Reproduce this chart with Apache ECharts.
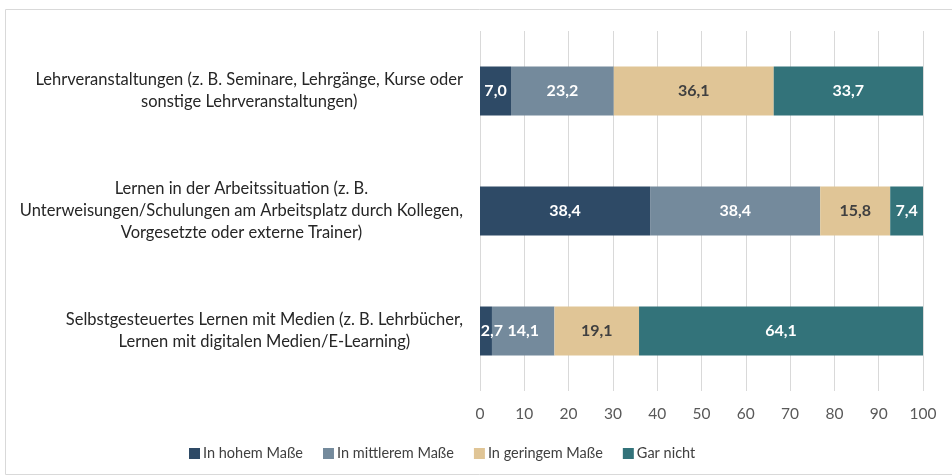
<!DOCTYPE html>
<html>
<head>
<meta charset="utf-8">
<script src="https://cdn.jsdelivr.net/npm/echarts@6/dist/echarts.min.js"></script>
<style>
html,body{margin:0;padding:0;background:#fff;}
#chart{width:952px;height:476px;}
</style>
</head>
<body>
<div id="chart"></div>
<script>
var categories = [
  'Lehrveranstaltungen (z. B. Seminare, Lehrgänge, Kurse oder\nsonstige Lehrveranstaltungen)',
  'Lernen in der Arbeitssituation (z. B.\nUnterweisungen/Schulungen am Arbeitsplatz durch Kollegen,\nVorgesetzte oder externe Trainer)',
  'Selbstgesteuertes Lernen mit Medien (z. B. Lehrbücher,\nLernen mit digitalen Medien/E-Learning)'
];
var seriesNames = ['In hohem Maße', 'In mittlerem Maße', 'In geringem Maße', 'Gar nicht'];
var hohem = [7.0, 38.4, 2.7];
var mittlerem = [23.2, 38.4, 14.1];
var geringem = [36.1, 15.8, 19.1];
var garNicht = [33.7, 7.4, 64.1];
var xTicks = [0, 10, 20, 30, 40, 50, 60, 70, 80, 90, 100];

var colors = ['#2E4A66', '#748A9C', '#E0C596', '#33737A'];
var labelColors = ['#ffffff', '#ffffff', '#404040', '#ffffff'];
var values = [hohem, mittlerem, geringem, garNicht];
var FONT = 'Lato';

var chart = echarts.init(document.getElementById('chart'), null, {renderer: 'canvas'});
var series = values.map(function (arr, i) {
  return {
    name: seriesNames[i],
    type: 'bar',
    stack: 'total',
    data: arr.map(function (v) {
      return v < 4 && i === 0 ? {value: v, label: {offset: [6, 0]}} : v;
    }),
    barWidth: 49,
    itemStyle: {color: colors[i]},
    label: {
      show: true,
      position: 'inside',
      color: labelColors[i],
      fontFamily: FONT,
      fontSize: 16,
      fontWeight: 'bold',
      formatter: function (p) { return p.value.toFixed(1).replace('.', ','); }
    }
  };
});

chart.setOption({
  animation: false,
  textStyle: {fontFamily: FONT},
  graphic: [{
    type: 'rect',
    shape: {x: 5.5, y: 9.5, width: 1000, height: 465},
    style: {fill: 'none', stroke: '#d9d9d9', lineWidth: 1},
    silent: true
  }],
  grid: {left: 480, right: 29, top: 31, bottom: 85, containLabel: false},
  legend: {
    bottom: 10,
    left: 184,
    itemWidth: 11,
    itemHeight: 11,
    itemGap: 20,
    icon: 'rect',
    textStyle: {fontFamily: FONT, fontSize: 14.5, color: '#404040', padding: [0, 0, 0, -2]},
    data: seriesNames
  },
  xAxis: {
    type: 'value',
    min: 0,
    max: 100,
    interval: 10,
    axisLine: {show: false},
    axisTick: {show: false},
    splitLine: {show: true, lineStyle: {color: '#d9d9d9', width: 1}},
    axisLabel: {
      fontFamily: FONT, fontSize: 15.5, color: '#595959', margin: 15,
      formatter: function (v) { return xTicks.indexOf(v) >= 0 ? String(v) : ''; }
    }
  },
  yAxis: {
    type: 'category',
    inverse: true,
    data: categories,
    axisLine: {show: false},
    axisTick: {show: false},
    axisLabel: {
      margin: 17,
      fontFamily: FONT,
      fontSize: 16.5,
      color: '#262626',
      lineHeight: 22,
      formatter: function (v) {
        return v.split('\n').map(function (l) { return '{c|' + l + '}'; }).join('\n');
      },
      rich: {c: {align: 'center', fontFamily: FONT, fontSize: 16.5, color: '#262626', lineHeight: 22}}
    }
  },
  series: series
});
</script>
</body>
</html>
